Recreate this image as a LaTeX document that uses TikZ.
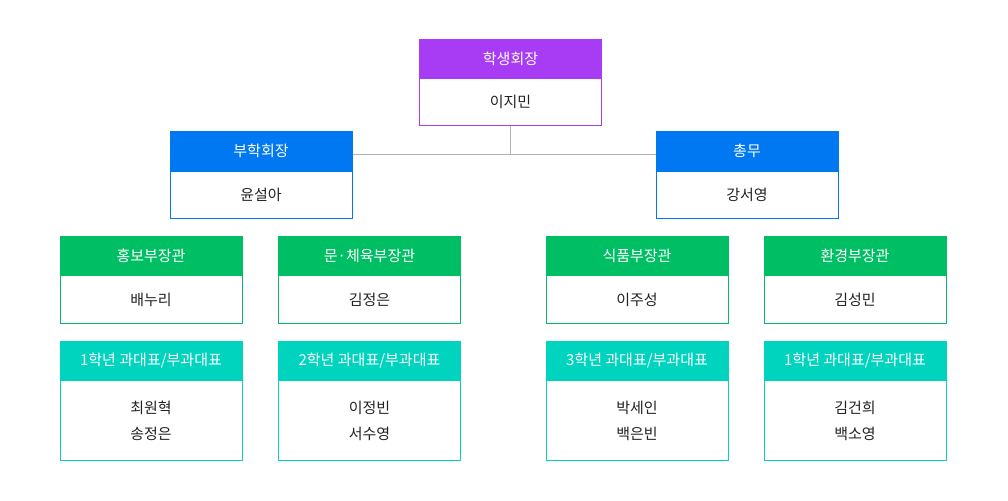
\documentclass[tikz,border=0pt]{standalone}
\usepackage{fontspec}
\setmainfont{Noto Sans CJK KR}
\definecolor{cpur}{HTML}{A83CF5}
\definecolor{cblue}{HTML}{0078F2}
\definecolor{cgreen}{HTML}{00BE64}
\definecolor{cteal}{HTML}{00D4BE}
\definecolor{ctext}{HTML}{222222}
\tikzset{
 hdr/.style={fill=#1,draw=#1,text=white,minimum width=182pt,minimum height=39pt,inner sep=0pt,font=\fontsize{15}{18}\selectfont,anchor=north},
 bdy/.style={fill=white,draw=#1,line width=0.8pt,text=ctext,minimum width=182pt,inner sep=0pt,font=\fontsize{15}{26}\selectfont,anchor=north,align=center},
 conn/.style={draw=black!30,line width=0.8pt}
}
\newcommand{\obox}[8]{% name, cx, ytop, hh, bh, color, title, body
 \node[hdr=#6,minimum height=#4pt] (#1h) at (#2,#3) {#7};
 \node[bdy=#6,minimum height=#5pt] (#1) at (#1h.south) {#8};
}
\begin{document}
\begin{tikzpicture}[x=1pt,y=-1pt]
\useasboundingbox (0,0) rectangle (1008,500);
\draw[conn] (352,154) -- (656,154);
\coordinate (j) at (510.5,154);
\obox{pres}{510.5}{39}{39}{47}{cpur}{학생회장}{이지민}
\draw[conn] (pres.south) -- (j);
\obox{vice}{261}{131}{40}{47}{cblue}{부학회장}{윤설아}
\obox{gen}{747}{131}{40}{47}{cblue}{총무}{강서영}
\obox{pr}{151}{236}{39}{48}{cgreen}{홍보부장관}{배누리}
\obox{sp}{369.5}{236}{39}{48}{cgreen}{문·체육부장관}{김정은}
\obox{fd}{637}{236}{39}{48}{cgreen}{식품부장관}{이주성}
\obox{en}{855}{236}{39}{48}{cgreen}{환경부장관}{김성민}
\obox{ga}{151}{341}{39}{80}{cteal}{1학년 과대표/부과대표}{최원혁\\송정은}
\obox{gb}{369.5}{341}{39}{80}{cteal}{2학년 과대표/부과대표}{이정빈\\서수영}
\obox{gc}{637}{341}{39}{80}{cteal}{3학년 과대표/부과대표}{박세인\\백은빈}
\obox{gd}{855}{341}{39}{80}{cteal}{1학년 과대표/부과대표}{김건희\\백소영}
\end{tikzpicture}
\end{document}
